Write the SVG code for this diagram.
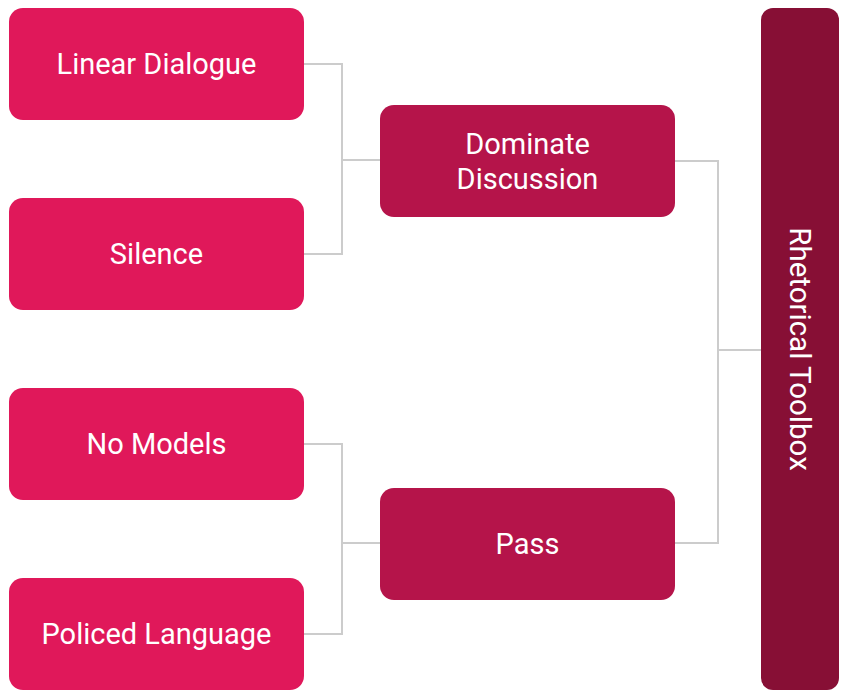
<svg xmlns="http://www.w3.org/2000/svg" width="841" height="692" viewBox="0 0 841 692">
<style>
.l{fill:#E0185A}
.m{fill:#B5144A}
.r{fill:#870F35}
text{font-family:Roboto,"Liberation Sans",sans-serif;font-size:29px;fill:#fff;text-anchor:middle;dominant-baseline:central}
.c{fill:none;stroke:#cccccc;stroke-width:2}
</style>
<rect width="841" height="692" fill="#fff"/>
<g id="connectors">
<path class="c" d="M304,64 H342 V254 H304 M342,160 H380"/>
<path class="c" d="M304,444 H342 V634 H304 M342,543 H380"/>
<path class="c" d="M675,161 H718 V543 H675 M718,350 H761"/>
</g>
<g id="linear-dialogue"><rect class="l" x="9" y="8" width="295" height="112" rx="14"/><text x="156.5" y="64">Linear Dialogue</text></g>
<g id="silence"><rect class="l" x="9" y="198" width="295" height="112" rx="14"/><text x="156.5" y="254">Silence</text></g>
<g id="no-models"><rect class="l" x="9" y="388" width="295" height="112" rx="14"/><text x="156.5" y="444">No Models</text></g>
<g id="policed-language"><rect class="l" x="9" y="578" width="295" height="112" rx="14"/><text x="156.5" y="634">Policed Language</text></g>
<g id="dominate-discussion"><rect class="m" x="380" y="105" width="295" height="112" rx="14"/><text x="527.5" y="144">Dominate</text><text x="527.5" y="179">Discussion</text></g>
<g id="pass"><rect class="m" x="380" y="488" width="295" height="112" rx="14"/><text x="527.5" y="544">Pass</text></g>
<g id="rhetorical-toolbox"><rect class="r" x="761" y="8" width="78" height="682" rx="12"/><text transform="translate(800,349) rotate(90)" style="font-size:29.5px">Rhetorical Toolbox</text></g>
</svg>
